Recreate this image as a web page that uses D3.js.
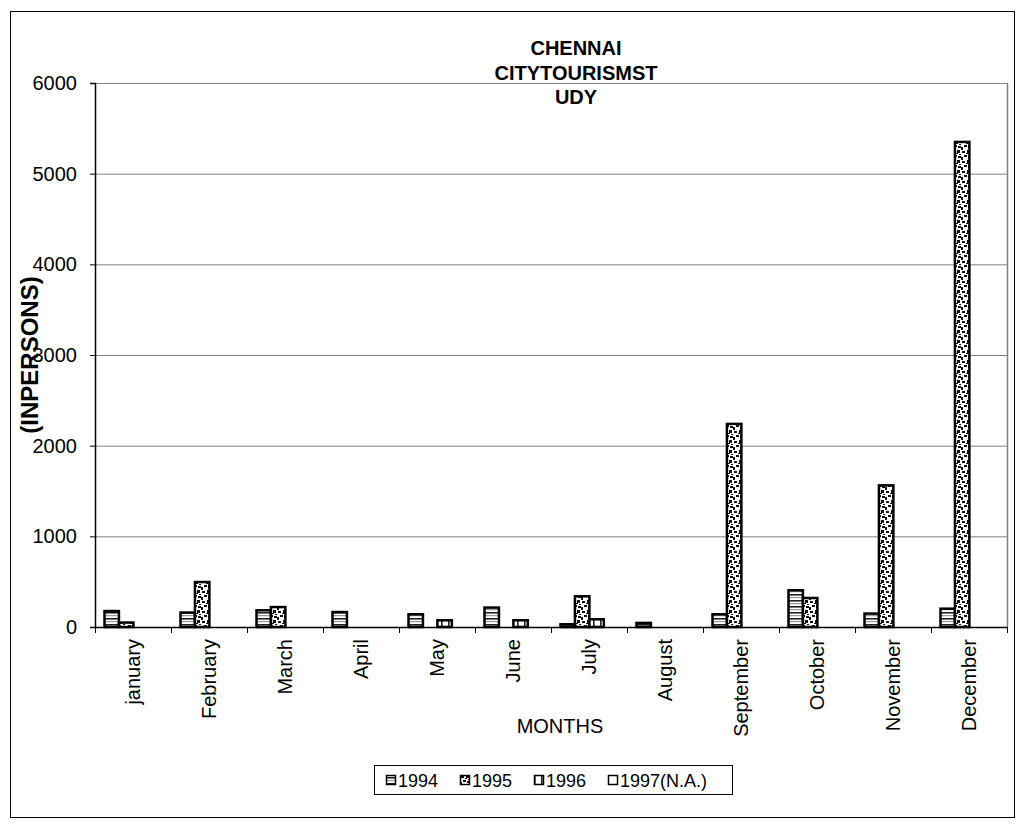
<!DOCTYPE html>
<html>
<head>
<meta charset="utf-8">
<script src="https://cdn.jsdelivr.net/npm/d3@7"></script>
<style>
  body { margin: 0; background: #fff; }
  svg { display: block; font-family: "Liberation Sans", Arial, sans-serif; }
</style>
</head>
<body>
<svg id="chart" width="1025" height="832"></svg>
<script>
// Monthly visitor counts, Chennai city tourism study
const months = ["january", "February", "March", "April", "May", "June",
                "July", "August", "September", "October", "November", "December"];
const seriesNames = ["1994", "1995", "1996", "1997(N.A.)"];
const values1994 = [176, 159, 184, 165, 140, 214, 30, 45, 140, 405, 148, 202];
const values1995 = [49, 496, 220, 0, 0, 0, 339, 0, 2240, 320, 1562, 5350];
const values1996 = [0, 0, 0, 0, 74, 74, 85, 0, 0, 0, 0, 0];
const values1997 = [0, 0, 0, 0, 0, 0, 0, 0, 0, 0, 0, 0];
const yTicks = [0, 1000, 2000, 3000, 4000, 5000, 6000];
const titleLines = ["CHENNAI", "CITYTOURISMST", "UDY"];

const seriesValues = [values1994, values1995, values1996, values1997];

const svg = d3.select("#chart");
const plot = { left: 95, top: 83, right: 1007, bottom: 627 };
const FONT = 20;

// outer chart frame
svg.append("rect").attr("x", 10.5).attr("y", 11.5).attr("width", 1004).attr("height", 806)
  .attr("fill", "#fff").attr("stroke", "#000").attr("stroke-width", 1);

// fill patterns
const defs = svg.append("defs");
const pStripe = defs.append("pattern").attr("id", "p0").attr("patternUnits", "userSpaceOnUse")
  .attr("width", 8).attr("height", 6);
pStripe.append("rect").attr("width", 8).attr("height", 6).attr("fill", "#fff");
pStripe.append("rect").attr("y", 0).attr("width", 8).attr("height", 1.6).attr("fill", "#222");
pStripe.append("rect").attr("y", 3).attr("width", 8).attr("height", 1.2).attr("fill", "#999");

const pConf = defs.append("pattern").attr("id", "p1").attr("patternUnits", "userSpaceOnUse")
  .attr("width", 10).attr("height", 10);
pConf.append("rect").attr("width", 10).attr("height", 10).attr("fill", "#fff");
[[1, 1, 3, 2], [6, 0, 3, 3], [3, 5, 3, 2], [7, 6, 3, 2], [0, 7, 2, 3], [5, 3, 2, 1], [8, 4, 2, 1]].forEach(d => {
  pConf.append("rect").attr("x", d[0]).attr("y", d[1]).attr("width", d[2]).attr("height", d[3]).attr("fill", "#111");
});

const pVert = defs.append("pattern").attr("id", "p2").attr("patternUnits", "userSpaceOnUse")
  .attr("width", 7).attr("height", 6);
pVert.append("rect").attr("width", 7).attr("height", 6).attr("fill", "#fff");
pVert.append("rect").attr("x", 0).attr("width", 1.6).attr("height", 6).attr("fill", "#222");

const fills = ["url(#p0)", "url(#p1)", "url(#p2)", "#fff"];

// scales
const x0 = d3.scaleBand().domain(months).range([plot.left, plot.right]).padding(0);
const gw = x0.bandwidth();
const x1 = d3.scaleBand().domain(seriesNames).range([gw * 0.125, gw * 0.885]).padding(0);
const y = d3.scaleLinear().domain([0, 6000]).range([plot.bottom, plot.top]);

// gridlines
svg.append("g").selectAll("line").data(yTicks.filter(t => t > 0)).join("line")
  .attr("x1", plot.left).attr("x2", plot.right)
  .attr("y1", d => y(d) + 0.5).attr("y2", d => y(d) + 0.5)
  .attr("stroke", "#808080").attr("stroke-width", 1);
// plot area right border
svg.append("line").attr("x1", plot.right + 0.5).attr("x2", plot.right + 0.5)
  .attr("y1", plot.top).attr("y2", plot.bottom).attr("stroke", "#808080").attr("stroke-width", 1.5);

// bars
const groups = svg.append("g").selectAll("g").data(months).join("g")
  .attr("transform", d => `translate(${x0(d)},0)`);
groups.selectAll("rect")
  .data((m, i) => seriesNames.map((s, k) => ({ s, k, v: seriesValues[k][i] })).filter(d => d.v > 0))
  .join("rect")
  .attr("x", d => x1(d.s))
  .attr("y", d => y(d.v))
  .attr("width", x1.bandwidth())
  .attr("height", d => plot.bottom - y(d.v))
  .attr("fill", d => fills[d.k])
  .attr("stroke", "#000").attr("stroke-width", 2.5);

// y axis
const yAxis = d3.axisLeft(y).tickValues(yTicks).tickSize(5).tickPadding(13).tickFormat(d3.format("d"));
const gy = svg.append("g").attr("transform", `translate(${plot.left},0)`).call(yAxis);
gy.select(".domain").attr("stroke", "#000").attr("stroke-width", 1.5);
gy.selectAll(".tick line").attr("stroke", "#000");
gy.selectAll(".tick text").attr("font-size", FONT).attr("fill", "#000")
  .attr("font-family", "Liberation Sans, Arial, sans-serif");

// x axis: category boundary ticks and rotated labels
const gx = svg.append("g");
gx.append("line").attr("x1", plot.left).attr("x2", plot.right + 1)
  .attr("y1", plot.bottom + 0.5).attr("y2", plot.bottom + 0.5)
  .attr("stroke", "#000").attr("stroke-width", 1.5);
gx.selectAll("line.tk").data(months.concat(["end"])).join("line").attr("class", "tk")
  .attr("x1", (d, i) => (i < months.length ? x0(d) : plot.right) + 0.5)
  .attr("x2", (d, i) => (i < months.length ? x0(d) : plot.right) + 0.5)
  .attr("y1", plot.bottom).attr("y2", plot.bottom + 6)
  .attr("stroke", "#000").attr("stroke-width", 1);
gx.selectAll("text").data(months).join("text")
  .attr("transform", d => `translate(${x0(d) + gw / 2 + 7},${plot.bottom + 12}) rotate(-90)`)
  .attr("text-anchor", "end")
  .attr("font-size", FONT)
  .text(d => d);

// axis titles
svg.append("text").attr("x", 560).attr("y", 733).attr("text-anchor", "middle")
  .attr("font-size", FONT).text("MONTHS");
svg.append("text")
  .attr("transform", `translate(38,${(plot.top + plot.bottom) / 2}) rotate(-90)`)
  .attr("text-anchor", "middle").attr("font-size", 24).attr("font-weight", "bold")
  .text("(INPERSONS)");

// title
svg.append("g").selectAll("text").data(titleLines).join("text")
  .attr("x", 576).attr("y", (d, i) => 55 + i * 24.5)
  .attr("text-anchor", "middle").attr("font-size", FONT).attr("font-weight", "bold")
  .text(d => d);

// legend
const lg = svg.append("g").attr("transform", "translate(374,765)");
lg.append("rect").attr("x", 0.5).attr("y", 0.5).attr("width", 358).attr("height", 29)
  .attr("fill", "#fff").attr("stroke", "#000").attr("stroke-width", 1);
const legendX = [12, 86, 160, 234];
const items = lg.selectAll("g.it").data(seriesNames).join("g").attr("class", "it")
  .attr("transform", (d, i) => `translate(${legendX[i]},0)`);
items.append("rect").attr("x", 0.5).attr("y", 10.5).attr("width", 9).attr("height", 9)
  .attr("fill", (d, i) => fills[i]).attr("stroke", "#000").attr("stroke-width", 1.5);
items.append("text").attr("x", 12).attr("y", 22).attr("font-size", 18).text(d => d);
</script>
</body>
</html>
